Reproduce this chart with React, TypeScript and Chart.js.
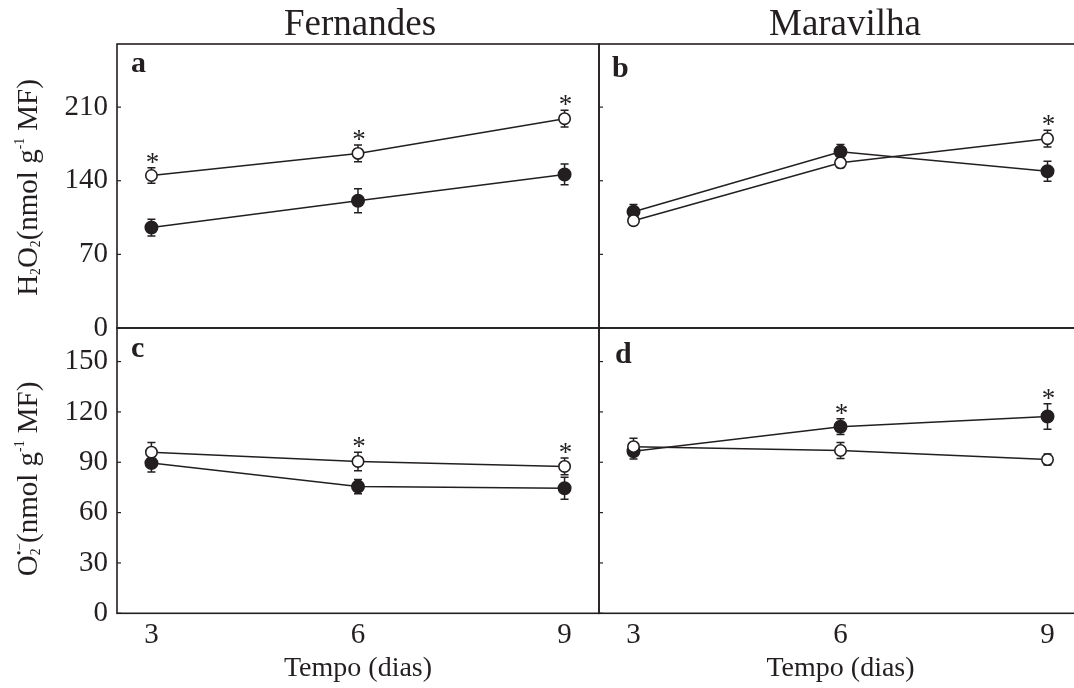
import React, { useEffect, useRef } from "react";
import { Chart, registerables } from "chart.js";

Chart.register(...registerables);

// ---------- data ----------
const days = [3, 6, 9];
const dayMin = 2.5;
const dayMax = 9.5;

const h2o2Ticks = [0, 70, 140, 210];
const h2o2Max = 270;
const o2Ticks = [0, 30, 60, 90, 120, 150];
const o2Max = 170;

const columnFernandes = "Fernandes";
const columnMaravilha = "Maravilha";
const xAxisTitle = "Tempo (dias)";

type Seg = [string, "" | "sub" | "sup" | "over"];
const h2o2AxisTitle: Seg[] = [["H", ""], ["2", "sub"], ["O", ""], ["2", "sub"], ["(nmol g", ""], ["-1", "sup"], [" MF)", ""]];
const o2AxisTitle: Seg[] = [["O", ""], ["2", "sub"], ["•−", "over"], ["(nmol g", ""], ["-1", "sup"], [" MF)", ""]];

// a: Fernandes, H2O2
const fernH2O2Open = [145, 166, 199];
const fernH2O2OpenErr = [7.3, 8, 8];
const fernH2O2OpenSig = [true, true, true];
const fernH2O2Filled = [95.5, 121, 146];
const fernH2O2FilledErr = [8, 11.4, 9.8];
const fernH2O2FilledSig = [false, false, false];

// b: Maravilha, H2O2
const marH2O2Open = [102, 157, 180];
const marH2O2OpenErr = [4, 4.5, 8];
const marH2O2OpenSig = [false, false, true];
const marH2O2Filled = [110.5, 167.5, 149];
const marH2O2FilledErr = [7, 7, 9.5];
const marH2O2FilledSig = [false, false, false];

// c: Fernandes, O2
const fernO2Open = [96, 90.5, 87.5];
const fernO2OpenErr = [5.7, 5.5, 5];
const fernO2OpenSig = [false, true, true];
const fernO2Filled = [89.5, 75.5, 74.5];
const fernO2FilledErr = [5.3, 4.3, 6.5];
const fernO2FilledSig = [false, false, false];

// d: Maravilha, O2
const marO2Open = [99.3, 97, 91.6];
const marO2OpenErr = [5, 4.8, 3.3];
const marO2OpenSig = [false, false, false];
const marO2Filled = [96.6, 111.2, 117.3];
const marO2FilledErr = [4.7, 4.7, 7.6];
const marO2FilledSig = [false, true, true];

// ---------- styles ----------
const INK = "#231f20";
const SERIF = "'Liberation Serif', 'Times New Roman', serif";
const CW = 1090;
const CH = 688;

type Series = { values: number[]; err: number[]; sig: boolean[]; filled: boolean };
type Panel = {
  letter: string;
  letterOff: [number, number];
  yTicks: number[];
  yMax: number;
  series: Series[];
  column?: string;
  columnDx?: number;
  yTitle?: Seg[];
  yTitleY?: number;
  left: boolean;
  bottom: boolean;
  pad: { left: number; right: number; top: number; bottom: number };
};

const panels: Panel[] = [
  {
    letter: "a", letterOff: [14, 28], yTicks: h2o2Ticks, yMax: h2o2Max,
    series: [
      { values: fernH2O2Open, err: fernH2O2OpenErr, sig: fernH2O2OpenSig, filled: false },
      { values: fernH2O2Filled, err: fernH2O2FilledErr, sig: fernH2O2FilledSig, filled: true },
    ],
    column: columnFernandes, columnDx: 2, yTitle: h2o2AxisTitle, yTitleY: 187.5,
    left: true, bottom: false, pad: { left: 0, right: CW - 599, top: 44, bottom: CH - 328 },
  },
  {
    letter: "b", letterOff: [13, 33], yTicks: h2o2Ticks, yMax: h2o2Max,
    series: [
      { values: marH2O2Open, err: marH2O2OpenErr, sig: marH2O2OpenSig, filled: false },
      { values: marH2O2Filled, err: marH2O2FilledErr, sig: marH2O2FilledSig, filled: true },
    ],
    column: columnMaravilha, columnDx: 4.5,
    left: false, bottom: false, pad: { left: 599, right: CW - 1082, top: 44, bottom: CH - 328 },
  },
  {
    letter: "c", letterOff: [14, 29], yTicks: o2Ticks, yMax: o2Max,
    series: [
      { values: fernO2Open, err: fernO2OpenErr, sig: fernO2OpenSig, filled: false },
      { values: fernO2Filled, err: fernO2FilledErr, sig: fernO2FilledSig, filled: true },
    ],
    yTitle: o2AxisTitle, yTitleY: 479,
    left: true, bottom: true, pad: { left: 0, right: CW - 599, top: 328, bottom: 0 },
  },
  {
    letter: "d", letterOff: [16, 35], yTicks: o2Ticks, yMax: o2Max,
    series: [
      { values: marO2Open, err: marO2OpenErr, sig: marO2OpenSig, filled: false },
      { values: marO2Filled, err: marO2FilledErr, sig: marO2FilledSig, filled: true },
    ],
    left: false, bottom: true, pad: { left: 599, right: CW - 1082, top: 328, bottom: 0 },
  },
];

function drawRich(ctx: CanvasRenderingContext2D, segs: Seg[], xb: number, yc: number, size: number) {
  const small = size * 0.47;
  const fontFor = (k: string) => `${k ? small : size}px ${SERIF}`;
  let total = 0;
  let lastStart = 0;
  let lastW = 0;
  const items: { t: string; k: string; x: number }[] = [];
  for (const [t, k] of segs) {
    ctx.font = fontFor(k);
    const w = ctx.measureText(t).width;
    if (k === "over") {
      items.push({ t, k, x: lastStart });
      total += Math.max(0, w - lastW);
      lastW = Math.max(w, lastW);
    } else {
      items.push({ t, k, x: total });
      lastStart = total;
      lastW = w;
      total += w;
    }
  }
  ctx.save();
  ctx.translate(xb, yc);
  ctx.rotate(-Math.PI / 2);
  ctx.fillStyle = INK;
  ctx.textBaseline = "alphabetic";
  ctx.textAlign = "left";
  for (const it of items) {
    ctx.font = fontFor(it.k);
    const dy = it.k === "sub" ? size * 0.1 : it.k === "sup" || it.k === "over" ? -size * 0.45 : 0;
    ctx.fillText(it.t, -total / 2 + it.x, dy);
  }
  ctx.restore();
}

function decor(p: Panel) {
  return {
    id: "decor",
    beforeDatasetsDraw(chart: any) {
      const { ctx, chartArea: a, scales } = chart;
      const xs = scales.x;
      const ys = scales.y;
      ctx.save();
      ctx.strokeStyle = INK;
      ctx.lineWidth = 1.6;
      ctx.strokeRect(a.left, a.top, a.right - a.left, a.bottom - a.top);
      ctx.lineWidth = 1.2;
      ys.ticks.forEach((t: any) => {
        const y = ys.getPixelForValue(t.value);
        ctx.beginPath();
        ctx.moveTo(a.left, y);
        ctx.lineTo(a.left + 4, y);
        ctx.stroke();
      });
      ctx.lineWidth = 1.5;
      p.series.forEach((s) => {
        days.forEach((d, j) => {
          const x = xs.getPixelForValue(d);
          const y1 = ys.getPixelForValue(s.values[j] + s.err[j]);
          const y2 = ys.getPixelForValue(s.values[j] - s.err[j]);
          ctx.beginPath();
          ctx.moveTo(x, y1);
          ctx.lineTo(x, y2);
          ctx.moveTo(x - 4, y1);
          ctx.lineTo(x + 4, y1);
          ctx.moveTo(x - 4, y2);
          ctx.lineTo(x + 4, y2);
          ctx.stroke();
        });
      });
      ctx.restore();
    },
    afterDatasetsDraw(chart: any) {
      const { ctx, scales } = chart;
      const xs = scales.x;
      const ys = scales.y;
      ctx.save();
      ctx.fillStyle = INK;
      ctx.font = `27px ${SERIF}`;
      ctx.textAlign = "center";
      ctx.textBaseline = "alphabetic";
      p.series.forEach((s) => {
        days.forEach((d, j) => {
          if (!s.sig[j]) return;
          const x = xs.getPixelForValue(d);
          const yTop = ys.getPixelForValue(s.values[j] + s.err[j]);
          ctx.fillText("*", x + 1, yTop + 3);
        });
      });
      ctx.restore();
    },
    afterDraw(chart: any) {
      const { ctx, chartArea: a } = chart;
      ctx.save();
      ctx.fillStyle = INK;
      ctx.textBaseline = "alphabetic";
      ctx.textAlign = "left";
      ctx.font = `bold 30px ${SERIF}`;
      ctx.fillText(p.letter, a.left + p.letterOff[0], a.top + p.letterOff[1]);
      if (p.column) {
        ctx.font = `37px ${SERIF}`;
        ctx.textAlign = "center";
        ctx.fillText(p.column, (a.left + a.right) / 2 + (p.columnDx || 0), 35);
      }
      ctx.restore();
      if (p.yTitle) drawRich(ctx, p.yTitle, 37, p.yTitleY || 0, 29);
    },
  };
}

function PanelChart({ p }: { p: Panel }) {
  const ref = useRef<HTMLCanvasElement>(null);
  useEffect(() => {
    if (!ref.current) return;
    const chart = new Chart(ref.current, {
      type: "line",
      data: {
        datasets: p.series.map((s) => ({
          data: days.map((d, i) => ({ x: d, y: s.values[i] })),
          borderColor: INK,
          borderWidth: 1.5,
          pointRadius: s.filled ? 6.2 : 5.7,
          pointBackgroundColor: s.filled ? INK : "#ffffff",
          pointBorderColor: INK,
          pointBorderWidth: 1.6,
          tension: 0,
          fill: false,
        })),
      },
      options: {
        responsive: false,
        animation: false,
        devicePixelRatio: 1,
        events: [],
        layout: { padding: p.pad },
        plugins: { legend: { display: false }, tooltip: { enabled: false }, title: { display: false } },
        scales: {
          x: {
            type: "linear",
            min: dayMin,
            max: dayMax,
            display: p.bottom,
            afterBuildTicks: (s: any) => { s.ticks = days.map((v) => ({ value: v })); },
            afterFit: (s: any) => { if (p.bottom) s.height = CH - 613.3; },
            grid: { display: false, drawTicks: false },
            border: { display: false },
            ticks: { font: { family: SERIF, size: 29 }, color: INK, padding: 5, maxRotation: 0, autoSkip: false },
            title: {
              display: p.bottom,
              text: xAxisTitle,
              font: { family: SERIF, size: 28 },
              color: INK,
              padding: { top: 0, bottom: 2.7 },
            },
          },
          y: {
            type: "linear",
            min: 0,
            max: p.yMax,
            afterBuildTicks: (s: any) => { s.ticks = p.yTicks.map((v) => ({ value: v })); },
            afterFit: (s: any) => { s.width = p.left ? 117 : 0; },
            grid: { display: false, drawTicks: false },
            border: { display: false },
            ticks: { display: p.left, font: { family: SERIF, size: 29 }, color: INK, padding: 9, autoSkip: false },
          },
        },
      } as any,
      plugins: [decor(p)],
    });
    return () => chart.destroy();
  }, [p]);
  return <canvas ref={ref} width={CW} height={CH} style={{ position: "absolute", left: 0, top: 0 }} />;
}

export default function App() {
  return (
    <div style={{ position: "absolute", left: 0, top: 0, width: 1074, height: 688, overflow: "hidden", background: "#ffffff" }}>
      {panels.map((p) => (
        <PanelChart key={p.letter} p={p} />
      ))}
    </div>
  );
}
